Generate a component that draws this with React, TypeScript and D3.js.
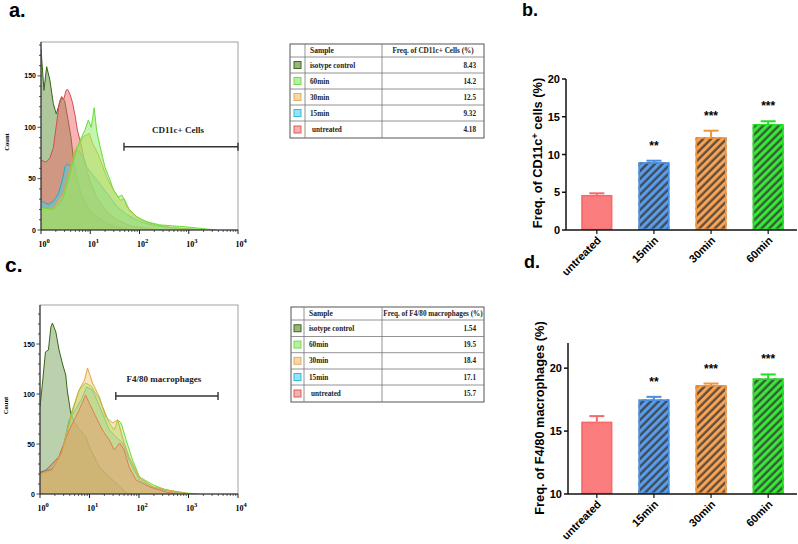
import React from 'react';
import * as d3 from 'd3';

// table rows, top to bottom
const samples = ['isotype control', '60min', '30min', '15min', 'untreated'];
const cd11cTable = ['8.43', '14.2', '12.5', '9.32', '4.18'];
const f480Table = ['1.54', '19.5', '18.4', '17.1', '15.7'];

// histogram traces: [log10 intensity, count]
const cd11cIsotype = [[0, 176], [0.06, 136], [0.115, 159], [0.18, 146], [0.25, 123], [0.31, 113], [0.355, 120], [0.42, 129], [0.48, 126], [0.55, 107], [0.61, 90], [0.66, 68], [0.72, 52], [0.83, 32], [0.995, 19], [1.13, 13], [1.33, 6.5], [1.53, 3], [1.77, 1], [2.02, 0]];
const cd11cUntreated = [[0, 68], [0.1, 66], [0.18, 70], [0.25, 80], [0.32, 105], [0.375, 125], [0.42, 130], [0.46, 127], [0.51, 136], [0.54, 137], [0.59, 132], [0.64, 124], [0.69, 112], [0.74, 97], [0.81, 84], [0.89, 65], [0.99, 48], [1.13, 32], [1.33, 18], [1.53, 10], [1.82, 4], [2.22, 1], [2.61, 0]];
const cd11c15 = [[0, 28], [0.15, 25], [0.25, 28], [0.35, 35], [0.44, 50], [0.49, 62], [0.54, 64], [0.6, 62], [0.65, 68], [0.72, 78], [0.79, 76], [0.87, 70], [0.93, 61], [1.13, 49], [1.34, 36], [1.54, 23], [1.74, 15], [2.02, 8], [2.32, 4], [2.71, 2], [3.0, 1], [3.3, 0]];
const cd11c30 = [[0, 20], [0.25, 22], [0.44, 35], [0.59, 60], [0.69, 78], [0.79, 84], [0.86, 91], [0.98, 94], [1.05, 84], [1.16, 74], [1.33, 52], [1.47, 39], [1.61, 29], [1.69, 30], [1.74, 23], [1.87, 16], [2.02, 10], [2.32, 5], [2.71, 2], [3.0, 1], [3.3, 0]];
const cd11c60 = [[0, 22], [0.25, 20], [0.44, 30], [0.59, 55], [0.72, 78], [0.79, 87], [0.89, 97], [0.96, 107], [1.02, 100], [1.08, 119], [1.13, 97], [1.2, 81], [1.3, 61], [1.4, 49], [1.47, 39], [1.57, 32], [1.64, 34], [1.7, 29], [1.8, 19], [1.94, 13], [2.15, 8], [2.41, 5], [2.96, 3], [3.36, 1], [3.57, 0]];

const f480Isotype = [[0, 87], [0.05, 111], [0.11, 142], [0.17, 144], [0.22, 167], [0.25, 171], [0.32, 162], [0.385, 144], [0.45, 131], [0.52, 119], [0.55, 104], [0.62, 81], [0.69, 72], [0.79, 65], [0.93, 57], [0.995, 47], [1.2, 27], [1.4, 17], [1.54, 11], [1.74, 1], [1.87, 0]];
const f480Untreated = [[0, 21], [0.12, 24], [0.38, 37], [0.59, 64], [0.79, 84], [0.92, 99], [0.995, 91], [1.13, 77], [1.26, 64], [1.4, 54], [1.5, 44], [1.61, 51], [1.7, 44], [1.8, 27], [1.94, 14], [2.22, 7], [2.55, 2], [2.82, 0]];
const f48015 = [[0, 22], [0.25, 25], [0.44, 40], [0.59, 74], [0.83, 94], [0.94, 107], [1.06, 104], [1.2, 88], [1.4, 64], [1.54, 57], [1.67, 51], [1.8, 34], [2.01, 14], [2.29, 6], [2.69, 2], [3.02, 0]];
const f48030 = [[0, 20], [0.25, 24], [0.44, 42], [0.64, 80], [0.79, 104], [0.9, 114], [0.96, 126], [1.06, 111], [1.2, 97], [1.33, 77], [1.47, 71], [1.57, 74], [1.68, 54], [1.8, 37], [2.01, 16], [2.29, 7], [2.69, 3], [3.02, 0]];
const f48060 = [[0, 20], [0.25, 24], [0.44, 42], [0.64, 82], [0.79, 104], [0.92, 111], [1.03, 108], [1.2, 95], [1.4, 71], [1.5, 64], [1.57, 74], [1.64, 71], [1.74, 54], [1.87, 34], [2.01, 17], [2.29, 9], [2.55, 4], [2.96, 1], [3.2, 0]];

// bar charts
const groups = ['untreated', '15min', '30min', '60min'];
const cd11cMean = [4.64, 8.97, 12.27, 14.04];
const cd11cSem = [0.22, 0.21, 0.88, 0.36];
const f480Mean = [15.74, 17.51, 18.65, 19.18];
const f480Sem = [0.45, 0.21, 0.13, 0.32];
const stars = ['', '**', '***', '***'];

const SERIF = '"Liberation Serif", "Times New Roman", serif';
const SANS = 'Arial, "Liberation Sans", sans-serif';

const col = {
  isotype: { fill: '#5e8f3a', stroke: '#3b6518', sw: '#97b57c', swb: '#3f6a1f' },
  m60: { fill: '#86ec5e', stroke: '#68dd38', sw: '#b6f29a', swb: '#7ad858' },
  m30: { fill: '#f2c061', stroke: '#dda53e', sw: '#f7d7a2', swb: '#e0ad6a' },
  m15: { fill: '#3fd2e8', stroke: '#2aa9c8', sw: '#8ee6f6', swb: '#3bb9dc' },
  untr: { fill: '#f26a6a', stroke: '#d05050', sw: '#f7b0b0', swb: '#dd5c5c' },
};
const swatchOrder = [col.isotype, col.m60, col.m30, col.m15, col.untr];

const barFill = ['#fb7d7d', '#5b9de8', '#f7a456', '#39e639'];
const barStroke = ['#f56a6a', '#4a8ee0', '#f0943e', '#22dd22'];

function Histogram({ box, yMax, series, gate, gateY, label, id, opacity }) {
  const { left, right, top, bottom } = box;
  const x = d3.scaleLog().domain([1, 1e4]).range([left, right]);
  const y = d3.scaleLinear().domain([0, yMax]).range([bottom, top]);
  const area = d3.area<number[]>().x(d => x(10 ** d[0])).y0(y(0)).y1(d => y(d[1]));
  const line = d3.line<number[]>().x(d => x(10 ** d[0])).y(d => y(d[1]));
  const minorX: number[] = [];
  for (let e = 0; e < 4; e++) for (let k = 2; k < 10; k++) minorX.push(k * 10 ** e);
  const minorY = d3.range(0, yMax, 10);
  const gx0 = x(gate[0]), gx1 = x(gate[1]), gy = y(gateY);
  return (
    <g>
      <defs>
        <clipPath id={id}>
          <rect x={left} y={top} width={right - left} height={bottom - top} />
        </clipPath>
      </defs>
      <g clipPath={`url(#${id})`}>
        {series.map((s, i) => (
          <g key={i}>
            <path d={area(s.data) || ''} fill={s.fill} fillOpacity={opacity} />
            <path d={line(s.data) || ''} fill="none" stroke={s.stroke} strokeWidth={1} />
          </g>
        ))}
      </g>
      <rect x={left} y={top} width={right - left} height={bottom - top} fill="none" stroke="#8a8a8a" strokeWidth={0.8} />
      <line x1={left} x2={left} y1={top} y2={bottom} stroke="#222" strokeWidth={1} />
      <line x1={left} x2={right} y1={bottom} y2={bottom} stroke="#222" strokeWidth={1} />
      {minorY.map(v => (
        <line key={v} x1={left} x2={left - (v % 50 === 0 ? 3.5 : 2)} y1={y(v)} y2={y(v)} stroke="#222" strokeWidth={0.8} />
      ))}
      {[0, 50, 100, 150].map(v => (
        <text key={v} x={left - 5} y={y(v) + 2.5} textAnchor="end" fontFamily={SANS} fontWeight="bold" fontSize={7}>{v}</text>
      ))}
      {minorX.map(v => (
        <line key={v} x1={x(v)} x2={x(v)} y1={bottom} y2={bottom + 2} stroke="#222" strokeWidth={0.7} />
      ))}
      {[0, 1, 2, 3, 4].map(e => (
        <g key={e}>
          <line x1={x(10 ** e)} x2={x(10 ** e)} y1={bottom} y2={bottom + 4} stroke="#222" strokeWidth={1} />
          <text x={x(10 ** e) + 3} y={bottom + 17} textAnchor="middle" fontFamily={SERIF} fontWeight="bold" fontSize={8}>
            10<tspan dy={-4} fontSize={6.5}>{e}</tspan>
          </text>
        </g>
      ))}
      <text transform={`translate(${left - 32},${(top + bottom) / 2 + 6}) rotate(-90)`} textAnchor="middle" fontFamily={SERIF} fontWeight="bold" fontSize={6.5}>Count</text>
      <line x1={gx0} x2={gx1} y1={gy} y2={gy} stroke="#333" strokeWidth={1.6} />
      <line x1={gx0} x2={gx0} y1={gy - 4} y2={gy + 4} stroke="#333" strokeWidth={1.4} />
      <line x1={gx1} x2={gx1} y1={gy - 4} y2={gy + 4} stroke="#333" strokeWidth={1.4} />
      <text x={(gx0 + gx1) / 2 - 3} y={gy - 14} textAnchor="middle" fontFamily={SERIF} fontWeight="bold" fontSize={9} fill="#222">{label}</text>
    </g>
  );
}

function FreqTable({ cols, rows, title, values }) {
  const [c0, c1, c2, c3] = cols;
  const top = rows[0], bottom = rows[rows.length - 1];
  return (
    <g fontFamily={SERIF} fontWeight="bold" fill="#222">
      <rect x={c0} y={top} width={c3 - c0} height={bottom - top} fill="#fff" stroke="#555" strokeWidth={1} />
      {rows.slice(1, -1).map((r, i) => (
        <line key={i} x1={c0} x2={c3} y1={r} y2={r} stroke="#777" strokeWidth={0.8} />
      ))}
      {[c1, c2].map((c, i) => (
        <line key={i} x1={c} x2={c} y1={top} y2={bottom} stroke="#777" strokeWidth={0.8} />
      ))}
      <text x={c1 + 5} y={(rows[0] + rows[1]) / 2 + 2.5} fontSize={7.5}>Sample</text>
      <text x={(c2 + c3) / 2} y={(rows[0] + rows[1]) / 2 + 2.5} fontSize={7.2} textAnchor="middle">{title}</text>
      {samples.map((s, i) => {
        const cy = (rows[i + 1] + rows[i + 2]) / 2;
        const sc = swatchOrder[i];
        return (
          <g key={s}>
            <rect x={(c0 + c1) / 2 - 3.5} y={cy - 3.5} width={7} height={7} fill={sc.sw} stroke={sc.swb} strokeWidth={1} />
            <text x={c1 + 5 + (s === 'untreated' ? 2 : 0)} y={cy + 2.5} fontSize={7.2}>{s}</text>
            <text x={c3 - 8} y={cy + 2.5} fontSize={7.2} textAnchor="end">{values[i]}</text>
          </g>
        );
      })}
    </g>
  );
}

function BarChart({ axisX, bandRange, xEnd, yRange, domain, ticks, mean, sem, title, titleY }) {
  const x = d3.scaleBand().domain(groups).range(bandRange).paddingInner(0.46).paddingOuter(0.27);
  const y = d3.scaleLinear().domain(domain).range(yRange);
  const y0 = y(domain[0]);
  const bw = x.bandwidth();
  return (
    <g fontFamily={SANS} fontWeight="bold">
      {groups.map((g, i) => {
        const bx = x(g) as number;
        const top = y(mean[i]);
        const et = y(mean[i] + sem[i]);
        const cx = bx + bw / 2;
        return (
          <g key={g}>
            <line x1={cx} x2={cx} y1={top} y2={et} stroke={barStroke[i]} strokeWidth={2} />
            <line x1={cx - 7.5} x2={cx + 7.5} y1={et} y2={et} stroke={barStroke[i]} strokeWidth={2} />
            <rect x={bx} y={top} width={bw} height={y0 - top} fill={barFill[i]} />
            {i > 0 && <rect x={bx} y={top} width={bw} height={y0 - top} fill="url(#hatch)" />}
            <rect x={bx + 0.75} y={top + 0.75} width={bw - 1.5} height={y0 - top - 1.5} fill="none" stroke={barStroke[i]} strokeWidth={1.5} />
            {stars[i] && (
              <text x={cx} y={et - 11} textAnchor="middle" fontSize={12}>{stars[i]}</text>
            )}
            <line x1={cx} x2={cx} y1={y0} y2={y0 + 4} stroke="#111" strokeWidth={1.2} />
            <text transform={`translate(${cx + 5},${y0 + 11}) rotate(-45)`} textAnchor="end" fontSize={11}>{g}</text>
          </g>
        );
      })}
      <line x1={axisX} x2={axisX} y1={yRange[1]} y2={y0} stroke="#111" strokeWidth={1.5} />
      <line x1={axisX} x2={xEnd} y1={y0} y2={y0} stroke="#111" strokeWidth={1.5} />
      {ticks.map(t => (
        <g key={t}>
          <line x1={axisX - 4} x2={axisX} y1={y(t)} y2={y(t)} stroke="#111" strokeWidth={1.5} />
          <text x={axisX - 6} y={y(t) + 4} textAnchor="end" fontSize={11}>{t}</text>
        </g>
      ))}
      <text transform={`translate(${axisX - 24},${titleY}) rotate(-90)`} textAnchor="middle" fontSize={12.8}>{title}</text>
    </g>
  );
}

export default function App() {
  const seriesA = [
    { data: cd11cIsotype, ...col.isotype },
    { data: cd11cUntreated, ...col.untr },
    { data: cd11c15, ...col.m15 },
    { data: cd11c30, ...col.m30 },
    { data: cd11c60, ...col.m60 },
  ];
  const seriesC = [
    { data: f480Isotype, ...col.isotype },
    { data: f48015, ...col.m15 },
    { data: f48060, ...col.m60 },
    { data: f480Untreated, ...col.untr },
    { data: f48030, ...col.m30 },
  ];
  return (
    <svg width={798} height={544} style={{ position: 'absolute', left: 0, top: 0, background: '#fff' }}>
      <defs>
        <pattern id="hatch" patternUnits="userSpaceOnUse" width={5.5} height={5.5} patternTransform="rotate(45)">
          <line x1={1.5} x2={1.5} y1={0} y2={5.5} stroke="#333" strokeOpacity={0.8} strokeWidth={2.3} />
        </pattern>
      </defs>
      <rect width={798} height={544} fill="#fff" />

      <text x={9} y={17} fontFamily={SANS} fontWeight="bold" fontSize={20}>a.</text>
      <text x={522} y={16} fontFamily={SANS} fontWeight="bold" fontSize={18}>b.</text>
      <text x={5} y={272} fontFamily={SANS} fontWeight="bold" fontSize={21}>c.</text>
      <text x={524} y={268} fontFamily={SANS} fontWeight="bold" fontSize={18}>d.</text>

      <Histogram id="clipA" box={{ left: 41, right: 238, top: 42, bottom: 230 }} yMax={183} opacity={0.5}
        series={seriesA} gate={[48.4, 1e4]} gateY={81} label="CD11c+ Cells" />
      <Histogram id="clipC" box={{ left: 40, right: 238, top: 305, bottom: 494 }} yMax={189} opacity={0.42}
        series={seriesC} gate={[34, 3950]} gateY={98} label="F4/80 macrophages" />

      <FreqTable cols={[290, 305, 382, 484]} rows={[44, 57, 73, 89, 105, 121, 138]}
        title="Freq. of  CD11c+ Cells (%)" values={cd11cTable} />
      <FreqTable cols={[291, 304, 382, 484]} rows={[307, 320, 336.5, 352.7, 369, 385, 402]}
        title="Freq. of F4/80 macrophages (%)" values={f480Table} />

      <BarChart axisX={566} bandRange={[566, 799]} xEnd={797} yRange={[230, 79]} domain={[0, 20]}
        ticks={[0, 5, 10, 15, 20]} mean={cd11cMean} sem={cd11cSem} titleY={153}
        title={<>Freq. of CD11c<tspan dy={-4} fontSize={9}>+</tspan><tspan dy={4}> cells (%)</tspan></>} />
      <BarChart axisX={568} bandRange={[566, 799]} xEnd={797} yRange={[494, 343]} domain={[10, 22]}
        ticks={[10, 15, 20]} mean={f480Mean} sem={f480Sem} titleY={418}
        title="Freq. of F4/80 macrophages (%)" />
    </svg>
  );
}
